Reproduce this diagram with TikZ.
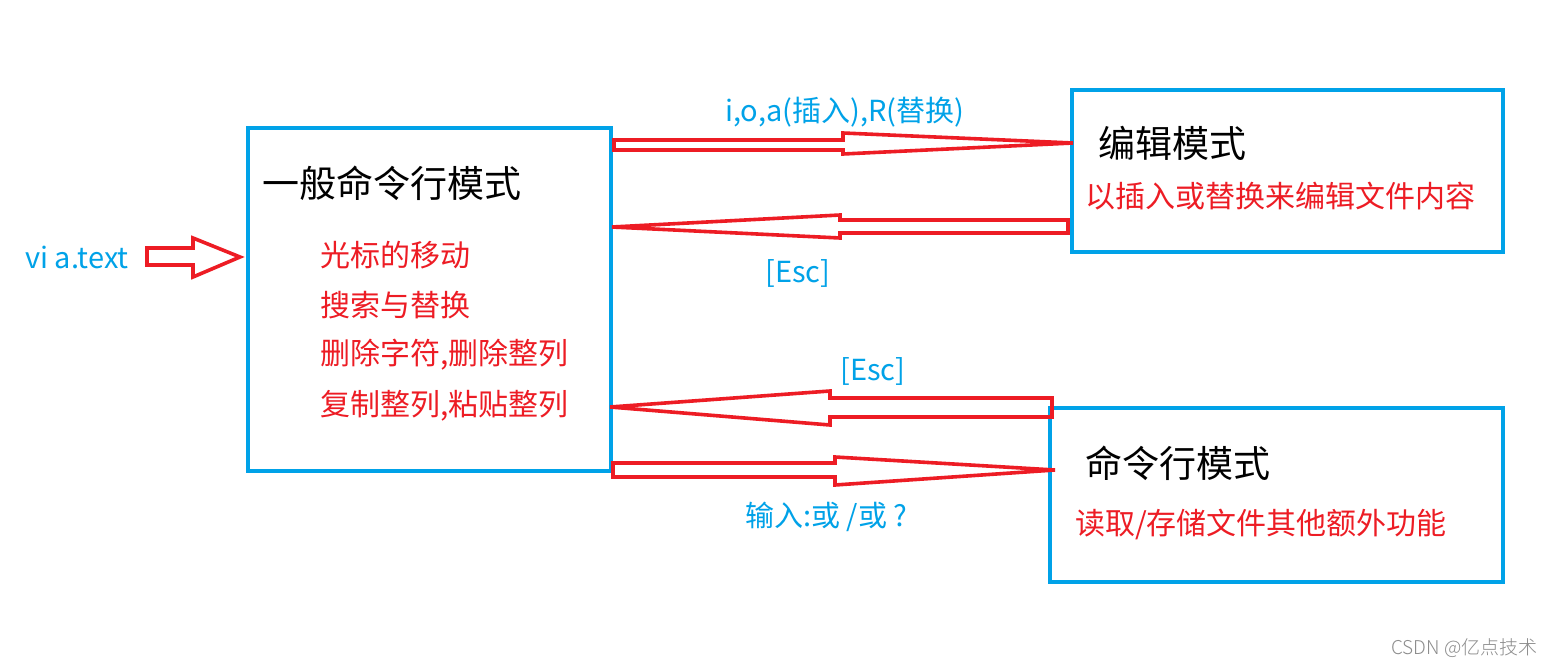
\documentclass[tikz,border=0pt]{standalone}
\usepackage{fontspec}
\setmainfont{Noto Sans CJK SC}
\newfontfamily\wmfont{Noto Sans CJK SC Light}
\definecolor{pblue}{HTML}{00A2E8}
\definecolor{pred}{HTML}{ED1C24}
\begin{document}
\begin{tikzpicture}[x=1pt,y=-1pt,
  modebox/.style={draw=pblue,line width=3.8pt,minimum width=#1,inner sep=0pt},
  harrow/.style={draw=pred,line width=3.6pt,line join=miter},
  lbl/.style={anchor=west,inner sep=0pt},
  blue28/.style={lbl,text=pblue,font=\fontsize{29}{33}\selectfont},
  red30/.style={lbl,text=pred,font=\fontsize{30}{34}\selectfont},
  black36/.style={lbl,text=black,font=\fontsize{37}{41}\selectfont}]
\useasboundingbox (0,0) rectangle (1557,666);
\fill[white] (0,0) rectangle (1557,666);
% boxes
\node[modebox=363pt,minimum height=343pt] (gen) at (429.5,299.5) {};
\node[modebox=431pt,minimum height=162pt] (edit) at (1287.5,171) {};
\node[modebox=453pt,minimum height=174pt] (cmd) at (1276.5,495) {};
% arrows
\draw[harrow] (147,248) -- (193,248) -- (193,238) -- (240,257) -- (193,277) -- (193,265) -- (147,265) -- cycle;
\draw[harrow] (614,140) -- (843,140) -- (843,133) -- (1073,143) -- (843,154) -- (843,150) -- (614,150) -- cycle;
\draw[harrow] (1068,220) -- (840,220) -- (840,215) -- (612,227) -- (840,238) -- (840,233) -- (1068,233) -- cycle;
\draw[harrow] (1052,398) -- (830,398) -- (830,391) -- (610,407) -- (830,425) -- (830,417) -- (1052,417) -- cycle;
\draw[harrow] (613,463) -- (835,463) -- (835,457) -- (1055,470) -- (835,485) -- (835,477) -- (613,477) -- cycle;
% texts
\node[blue28] (vi) at (25,257) {vi a.text};
\node[black36] (t1) at (262,183) {一般命令行模式};
\node[red30] (r1) at (320,255) {光标的移动};
\node[red30] (r2) at (320,305) {搜索与替换};
\node[red30] (r3) at (320,355) {删除字符,删除整列};
\node[red30] (r4) at (320,406) {复制整列,粘贴整列};
\node[blue28] (ins) at (725,112) {i,o,a(插入),R(替换)};
\node[black36] (t2) at (1098,143) {编辑模式};
\node[red30] (r5) at (1085,196) {以插入或替换来编辑文件内容};
\node[blue28] (esc1) at (765,273) {[Esc]};
\node[blue28] (esc2) at (840,371) {[Esc]};
\node[black36] (t3) at (1085,463) {命令行模式};
\node[red30] (r6) at (1075,524) {读取/存储文件其他额外功能};
\node[blue28] (inp) at (745,517) {输入:或 /或 ?};
\node[lbl,text=black!45,font=\wmfont\fontsize{19}{22}\selectfont] (wm) at (1391,648) {CSDN @亿点技术};
\end{tikzpicture}
\end{document}
